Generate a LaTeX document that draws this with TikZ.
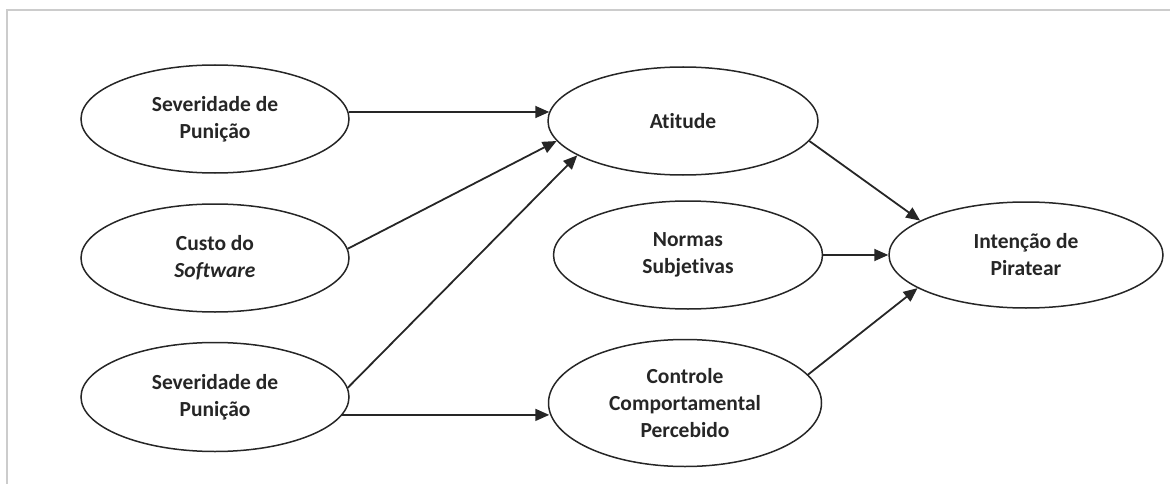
\documentclass[tikz,border=0pt]{standalone}
\usepackage{fontspec}
\setmainfont{Carlito}[Ligatures=NoCommon]
\usetikzlibrary{shapes.geometric,arrows.meta}
\begin{document}
\begin{tikzpicture}[x=1pt,y=-1pt,
  construct/.style={ellipse,draw=black!85,line width=1.5pt,inner sep=0pt,
    minimum width=268pt,minimum height=108pt,align=center,
    font=\bfseries\fontsize{21.5}{27}\selectfont,text=black!85},
  link/.style={draw=black!85,line width=1.8pt,
    -{Triangle[length=14pt,width=12pt]}},
  frame/.style={draw=black!20,line width=2pt}]
\useasboundingbox (0,0) rectangle (1170,484);
% partial frame along the top and left edges
\draw[frame] (7,484) -- (7,10) -- (1170,10);

% antecedents
\node[construct] (sev1) at (215,119) {Severidade de\\Punição};
\node[construct] (custo) at (215,258) {Custo do\\\textit{Software}};
\node[construct,minimum height=109pt] (sev2) at (215,397) {Severidade de\\Punição};

% TPB constructs
\node[construct,minimum width=270pt] (atit) at (683,121) {Atitude};
\node[construct,minimum width=269pt] (norm) at (688,255) {Normas\\Subjetivas};
\node[construct,minimum width=273pt,minimum height=127pt] (ctrl) at (685,403) {Controle\\Comportamental\\Percebido};
\node[construct,minimum width=274pt,minimum height=106pt] (inten) at (1026,255) {Intenção de\\Piratear};

% paths (the two horizontal ones end level with their start)
\draw[link,shorten >=-2pt] (sev1.3.5) -- (sev1.3.5 -| atit.west);
\draw[link] (custo.4) -- (atit.189);
\draw[link] (sev2.4.3) -- (atit.198.3);
\draw[link,shorten >=-1.5pt] (sev2.352.9) -- (sev2.352.9 -| ctrl.west);
\draw[link] (atit.-9.8) -- (inten.162.7);
\draw[link] (norm.east) -- (inten.west);
\draw[link] (ctrl.13) -- (inten.197);
\end{tikzpicture}
\end{document}
